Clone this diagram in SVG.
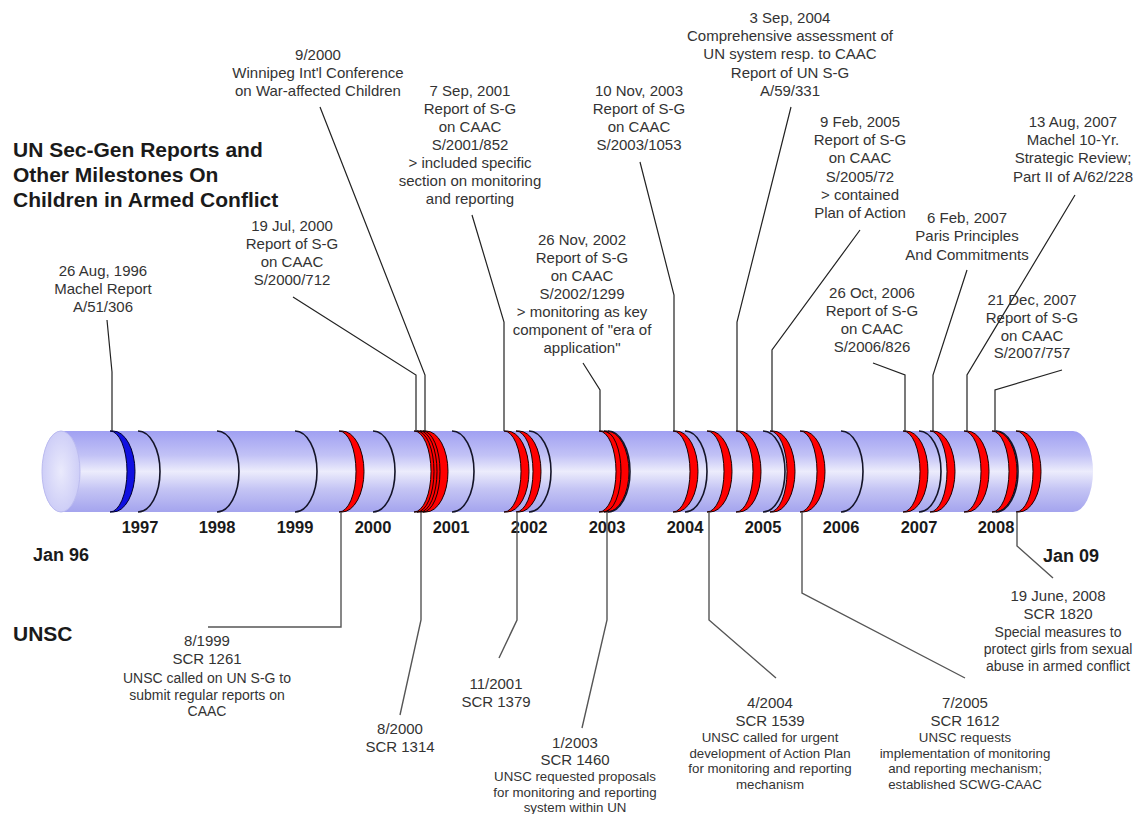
<svg xmlns="http://www.w3.org/2000/svg" width="1135" height="814" viewBox="0 0 1135 814">
<defs>
<linearGradient id="body" x1="0" y1="0" x2="0" y2="1">
<stop offset="0" stop-color="#a0a0f2"/>
<stop offset="0.3" stop-color="#c2c2f6"/>
<stop offset="0.5" stop-color="#ececfc"/>
<stop offset="0.72" stop-color="#c4c4f4"/>
<stop offset="1" stop-color="#a4a4ee"/>
</linearGradient>
<radialGradient id="cap" cx="0.5" cy="0.5" r="0.6">
<stop offset="0" stop-color="#eaeafc"/>
<stop offset="1" stop-color="#c8c8f6"/>
</radialGradient>
<path id="rr" d="M0,0 L3,0 A22,40.5 0 0 1 3,81 L0,81 A17,40.5 0 0 0 0,0 Z"/>
<path id="kr" d="M0,0 A22,40.5 0 0 1 0,81"/>
</defs>
<style>
text{font-family:"Liberation Sans",Arial,sans-serif;fill:#333;text-anchor:middle}
.t{font-size:15px}
.s{font-size:14px}
.n{font-size:13.3px}
.b{font-weight:bold;fill:#1a1a1a}
.h{font-size:21px;text-anchor:start}
.y{font-size:16.5px}
.k{fill:none;stroke:#141428;stroke-width:1.6}
.r{fill:#ff0000;stroke:#1a0000;stroke-width:1}
.u{fill:#1010e0;stroke:#000030;stroke-width:1}
.c{fill:none;stroke:#222;stroke-width:1.2}
.g{fill:none;stroke:#555;stroke-width:1.4}
</style>
<rect width="1135" height="814" fill="#ffffff"/>

<g id="timeline">
<path d="M61,431 L1073,431 A20,40.5 0 0 1 1073,512 L61,512 A19,40.5 0 0 1 61,431 Z" fill="url(#body)"/>
<ellipse cx="61" cy="471.5" rx="19" ry="40.5" fill="url(#cap)" stroke="#bcbcf0" stroke-width="1"/>
<use href="#rr" class="u" x="110" y="431"/>
<use href="#kr" class="k" x="138" y="431"/>
<use href="#kr" class="k" x="217" y="431"/>
<use href="#kr" class="k" x="295" y="431"/>
<use href="#rr" class="r" x="339" y="431"/>
<use href="#kr" class="k" x="373" y="431"/>
<use href="#rr" class="r" x="414" y="431"/>
<use href="#rr" class="r" x="417" y="431"/>
<use href="#rr" class="r" x="420" y="431"/>
<use href="#rr" class="r" x="423" y="431"/>
<use href="#kr" class="k" x="452" y="431"/>
<use href="#rr" class="r" x="504" y="431"/>
<use href="#rr" class="r" x="516" y="431"/>
<use href="#kr" class="k" x="529" y="431"/>
<use href="#rr" class="r" x="599" y="431"/>
<use href="#rr" class="r" x="604" y="431"/>
<use href="#kr" class="k" x="608" y="431"/>
<use href="#rr" class="r" x="673" y="431"/>
<use href="#kr" class="k" x="685" y="431"/>
<use href="#rr" class="r" x="707" y="431"/>
<use href="#rr" class="r" x="736" y="431"/>
<use href="#kr" class="k" x="763" y="431"/>
<use href="#rr" class="r" x="770" y="431"/>
<use href="#rr" class="r" x="800" y="431"/>
<use href="#kr" class="k" x="841" y="431"/>
<use href="#rr" class="r" x="903" y="431"/>
<use href="#kr" class="k" x="919" y="431"/>
<use href="#rr" class="r" x="930" y="431"/>
<use href="#rr" class="r" x="964" y="431"/>
<use href="#rr" class="r" x="992" y="431"/>
<use href="#kr" class="k" x="996" y="431"/>
<use href="#rr" class="r" x="1016" y="431"/>
</g>

<g id="years">
<text class="y b" x="140" y="533">1997</text>
<text class="y b" x="217" y="533">1998</text>
<text class="y b" x="295" y="533">1999</text>
<text class="y b" x="373" y="533">2000</text>
<text class="y b" x="451" y="533">2001</text>
<text class="y b" x="529" y="533">2002</text>
<text class="y b" x="607" y="533">2003</text>
<text class="y b" x="685" y="533">2004</text>
<text class="y b" x="763" y="533">2005</text>
<text class="y b" x="841" y="533">2006</text>
<text class="y b" x="919" y="533">2007</text>
<text class="y b" x="996" y="533">2008</text>
<text class="b" x="61" y="561" font-size="18">Jan 96</text>
<text class="b" x="1071" y="562" font-size="18">Jan 09</text>
</g>

<g id="titles">
<text class="h b" x="13" y="157">UN Sec-Gen Reports and</text>
<text class="h b" x="13" y="182">Other Milestones On</text>
<text class="h b" x="13" y="207">Children in Armed Conflict</text>
<text class="h b" x="13" y="641">UNSC</text>
</g>

<g id="connectors">
<polyline class="c" points="107,320 112,372 112,431"/>
<polyline class="c" points="293,297 416,375 416,431"/>
<polyline class="c" points="320,107 425,375 425,431"/>
<polyline class="c" points="472,215 504,322 504,431"/>
<polyline class="c" points="640,162 674,295 674,431"/>
<polyline class="c" points="583,363 600,390 600,431"/>
<polyline class="c" points="791,107 737,322 737,431"/>
<polyline class="c" points="860,230 772,350 772,431"/>
<polyline class="c" points="967,270 933,375 933,431"/>
<polyline class="c" points="1075,195 967,375 967,431"/>
<polyline class="c" points="873,363 905,375 905,431"/>
<polyline class="c" points="1062,370 995,390 995,431"/>
<polyline class="g" points="341,512 341,627 208,627"/>
<polyline class="g" points="421,512 421,620 400,715"/>
<polyline class="g" points="517,512 517,620 499,658"/>
<polyline class="g" points="607,512 607,620 582,728"/>
<polyline class="g" points="709,512 709,620 776,678"/>
<polyline class="g" points="802,512 802,593 965,678"/>
<polyline class="g" points="1017,512 1017,546 1053,578"/>
</g>

<g id="n-machel">
<text class="t"><tspan x="103" y="276">26 Aug, 1996</tspan><tspan x="103" y="294">Machel Report</tspan><tspan x="103" y="312">A/51/306</tspan></text>
</g>
<g id="n-jul2000">
<text class="t"><tspan x="292" y="231">19 Jul, 2000</tspan><tspan x="292" y="249">Report of S-G</tspan><tspan x="292" y="267">on CAAC</tspan><tspan x="292" y="285">S/2000/712</tspan></text>
</g>
<g id="n-winnipeg">
<text class="t"><tspan x="318" y="60">9/2000</tspan><tspan x="318" y="78">Winnipeg Int'l Conference</tspan><tspan x="318" y="96">on War-affected Children</tspan></text>
</g>
<g id="n-sep2001">
<text class="t"><tspan x="470" y="96">7 Sep, 2001</tspan><tspan x="470" y="114">Report of S-G</tspan><tspan x="470" y="132">on CAAC</tspan><tspan x="470" y="150">S/2001/852</tspan><tspan x="470" y="168">&gt; included specific</tspan><tspan x="470" y="186">section on monitoring</tspan><tspan x="470" y="204">and reporting</tspan></text>
</g>
<g id="n-nov2002">
<text class="t"><tspan x="582" y="245">26 Nov, 2002</tspan><tspan x="582" y="263">Report of S-G</tspan><tspan x="582" y="281">on CAAC</tspan><tspan x="582" y="299">S/2002/1299</tspan><tspan x="582" y="317">&gt; monitoring as key</tspan><tspan x="582" y="335">component of "era of</tspan><tspan x="582" y="353">application"</tspan></text>
</g>
<g id="n-nov2003">
<text class="t"><tspan x="639" y="96">10 Nov, 2003</tspan><tspan x="639" y="114">Report of S-G</tspan><tspan x="639" y="132">on CAAC</tspan><tspan x="639" y="150">S/2003/1053</tspan></text>
</g>
<g id="n-sep2004">
<text class="t"><tspan x="790" y="23">3 Sep, 2004</tspan><tspan x="790" y="41">Comprehensive assessment of</tspan><tspan x="790" y="59">UN system resp. to CAAC</tspan><tspan x="790" y="78">Report of UN S-G</tspan><tspan x="790" y="96">A/59/331</tspan></text>
</g>
<g id="n-feb2005">
<text class="t"><tspan x="860" y="127">9 Feb, 2005</tspan><tspan x="860" y="145">Report of S-G</tspan><tspan x="860" y="163">on CAAC</tspan><tspan x="860" y="182">S/2005/72</tspan><tspan x="860" y="200">&gt; contained</tspan><tspan x="860" y="218">Plan of Action</tspan></text>
</g>
<g id="n-oct2006">
<text class="t"><tspan x="872" y="298">26 Oct, 2006</tspan><tspan x="872" y="316">Report of S-G</tspan><tspan x="872" y="334">on CAAC</tspan><tspan x="872" y="352">S/2006/826</tspan></text>
</g>
<g id="n-feb2007">
<text class="t"><tspan x="967" y="223">6 Feb, 2007</tspan><tspan x="967" y="241">Paris Principles</tspan><tspan x="967" y="260">And Commitments</tspan></text>
</g>
<g id="n-aug2007">
<text class="t"><tspan x="1073" y="127">13 Aug, 2007</tspan><tspan x="1073" y="145">Machel 10-Yr.</tspan><tspan x="1073" y="163">Strategic Review;</tspan><tspan x="1073" y="182">Part II of A/62/228</tspan></text>
</g>
<g id="n-dec2007">
<text class="t"><tspan x="1032" y="305">21 Dec, 2007</tspan><tspan x="1032" y="323">Report of S-G</tspan><tspan x="1032" y="341">on CAAC</tspan><tspan x="1032" y="358">S/2007/757</tspan></text>
</g>

<g id="n-scr1261">
<text class="t"><tspan x="207" y="646">8/1999</tspan><tspan x="207" y="664">SCR 1261</tspan></text>
<text class="s"><tspan x="207" y="683">UNSC called on UN S-G to</tspan><tspan x="207" y="700">submit regular reports on</tspan><tspan x="207" y="716">CAAC</tspan></text>
</g>
<g id="n-scr1314">
<text class="t"><tspan x="400" y="734">8/2000</tspan><tspan x="400" y="752">SCR 1314</tspan></text>
</g>
<g id="n-scr1379">
<text class="t"><tspan x="496" y="689">11/2001</tspan><tspan x="496" y="707">SCR 1379</tspan></text>
</g>
<g id="n-scr1460">
<text class="t"><tspan x="575" y="748">1/2003</tspan><tspan x="575" y="765">SCR 1460</tspan></text>
<text class="n"><tspan x="575" y="781">UNSC requested proposals</tspan><tspan x="575" y="797">for monitoring and reporting</tspan><tspan x="575" y="812">system within UN</tspan></text>
</g>
<g id="n-scr1539">
<text class="t"><tspan x="770" y="708">4/2004</tspan><tspan x="770" y="726">SCR 1539</tspan></text>
<text class="n"><tspan x="770" y="742">UNSC called for urgent</tspan><tspan x="770" y="758">development of Action Plan</tspan><tspan x="770" y="773">for monitoring and reporting</tspan><tspan x="770" y="789">mechanism</tspan></text>
</g>
<g id="n-scr1612">
<text class="t"><tspan x="965" y="708">7/2005</tspan><tspan x="965" y="726">SCR 1612</tspan></text>
<text class="n"><tspan x="965" y="742">UNSC requests</tspan><tspan x="965" y="758">implementation of monitoring</tspan><tspan x="965" y="773">and reporting mechanism;</tspan><tspan x="965" y="789">established SCWG-CAAC</tspan></text>
</g>
<g id="n-scr1820">
<text class="t"><tspan x="1058" y="601">19 June, 2008</tspan><tspan x="1058" y="619">SCR 1820</tspan></text>
<text class="s"><tspan x="1058" y="637">Special measures to</tspan><tspan x="1058" y="654">protect girls from sexual</tspan><tspan x="1058" y="671">abuse in armed conflict</tspan></text>
</g>
</svg>
